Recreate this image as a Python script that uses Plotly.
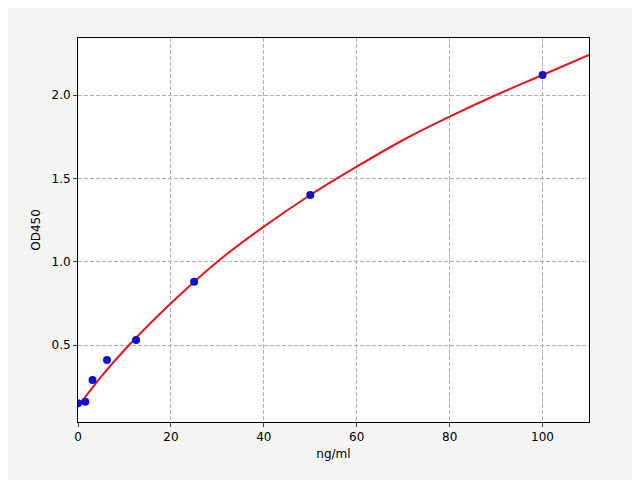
import plotly.graph_objects as go

# standards (measured)
conc = [0, 1.56, 3.125, 6.25, 12.5, 25, 50, 100]
od = [0.15, 0.16, 0.29, 0.41, 0.53, 0.88, 1.40, 2.12]

# fitted curve
fit_x = [0, 5, 10, 20, 30, 40, 50, 60, 70, 80, 90, 100, 110]
fit_y = [0.13, 0.31, 0.47, 0.75, 1.0, 1.21, 1.40, 1.57, 1.73, 1.87, 2.00, 2.12, 2.24]

fig = go.Figure()
fig.add_trace(go.Scatter(x=fit_x, y=fit_y, mode='lines', line=dict(color='#e8141c', width=2, shape='spline')))
fig.add_trace(go.Scatter(x=conc, y=od, mode='markers', marker=dict(color='#1010d0', size=8)))

axis = dict(showline=True, linecolor='black', linewidth=1, mirror=True, ticks='outside', ticklen=4,
            showgrid=True, gridcolor='#b0b0b0', griddash='4px,2px', zeroline=False,
            tickfont=dict(family='DejaVu Sans', size=12, color='black'),
            title_font=dict(family='DejaVu Sans', size=12, color='black'))

fig.update_layout(
    width=640, height=480, showlegend=False,
    paper_bgcolor='#f4f4f4', plot_bgcolor='white',
    margin=dict(l=70, r=59, t=30, b=66),
    xaxis=dict(axis, range=[0, 110], dtick=20, title=dict(text='ng/ml', standoff=6)),
    yaxis=dict(axis, range=[0.038, 2.342], tickvals=[0.5, 1.0, 1.5, 2.0], ticktext=['0.5', '1.0', '1.5', '2.0'],
               title=dict(text='OD450', standoff=8)),
)
fig.write_html("out.html")
